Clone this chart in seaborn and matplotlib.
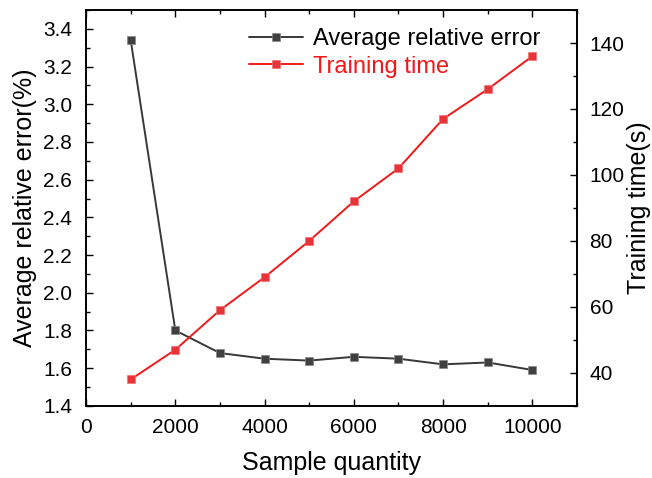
import numpy as np
import pandas as pd
import matplotlib
matplotlib.use("Agg")
import matplotlib.pyplot as plt
import seaborn as sns
from matplotlib.ticker import MultipleLocator

sample_quantity = [1000, 2000, 3000, 4000, 5000, 6000, 7000, 8000, 9000, 10000]
avg_rel_error = [3.34, 1.80, 1.68, 1.65, 1.64, 1.66, 1.65, 1.62, 1.63, 1.59]
training_time = [38, 47, 59, 69, 80, 92, 102, 117, 126, 136]

df = pd.DataFrame({
    "Sample quantity": sample_quantity,
    "error": avg_rel_error,
    "time": training_time,
})

sns.set_style("ticks")
plt.rcParams["font.family"] = ["Liberation Sans", "DejaVu Sans"]
plt.rcParams["text.color"] = "black"
plt.rcParams["axes.labelcolor"] = "black"

fig = plt.figure(figsize=(6.52, 4.78), dpi=100)
ax = fig.add_axes([0.132, 0.151, 0.753, 0.828])
ax2 = ax.twinx()

# 誤差の曲線
sns.lineplot(data=df, x="Sample quantity", y="error", ax=ax, color="#383838",
             marker="s", markersize=6, markerfacecolor="#404040",
             markeredgecolor="#888888", markeredgewidth=0.5, linewidth=1.4,
             label="Average relative error", legend=False)
# 学習時間の曲線
sns.lineplot(data=df, x="Sample quantity", y="time", ax=ax2, color="#f01818",
             marker="s", markersize=6, markerfacecolor="#e83438",
             markeredgecolor="#f07070", markeredgewidth=0.5, linewidth=1.4,
             label="Training time", legend=False)

ax.set_xlim(0, 11000)
ax.set_ylim(1.4, 3.5)
ax2.set_ylim(30, 150)

ax.xaxis.set_major_locator(MultipleLocator(2000))
ax.xaxis.set_minor_locator(MultipleLocator(1000))
ax.yaxis.set_minor_locator(MultipleLocator(0.1))
ax2.yaxis.set_minor_locator(MultipleLocator(10))
ax.set_yticks(np.arange(1.4, 3.41, 0.2))
ax.yaxis.set_major_formatter(matplotlib.ticker.FormatStrFormatter("%.1f"))
ax2.set_yticks(np.arange(40, 141, 20))

ax.tick_params(which="both", direction="in", top=True, labelsize=15, width=1,
               colors="black", labelcolor="black")
ax.tick_params(axis="x", which="major", length=5, pad=9)
ax.tick_params(axis="y", which="major", length=5, pad=10)
ax.tick_params(which="minor", length=3)
ax2.tick_params(which="both", direction="in", labelsize=15, width=1,
                colors="black", labelcolor="black")
ax2.tick_params(which="major", length=5, pad=9)
ax2.tick_params(which="minor", length=3)

for a in (ax, ax2):
    for s in a.spines.values():
        s.set_visible(True)
        s.set_linewidth(1.2)
        s.set_color("black")

ax.set_xlabel("Sample quantity", fontsize=18, labelpad=10)
ax.set_ylabel("Average relative error(%)", fontsize=18, labelpad=4)
ax2.set_ylabel("Training time(s)", fontsize=18, labelpad=2)

h1, l1 = ax.get_legend_handles_labels()
h2, l2 = ax2.get_legend_handles_labels()
leg = ax.legend(h1 + h2, l1 + l2, loc="upper right", bbox_to_anchor=(0.925, 0.955),
                frameon=False, fontsize=17, handlelength=2.3, handletextpad=0.4,
                labelspacing=0.25, borderaxespad=0, borderpad=0)
leg.get_texts()[0].set_color("black")
leg.get_texts()[1].set_color("#f01818")

fig.savefig("out.png", dpi=100)
